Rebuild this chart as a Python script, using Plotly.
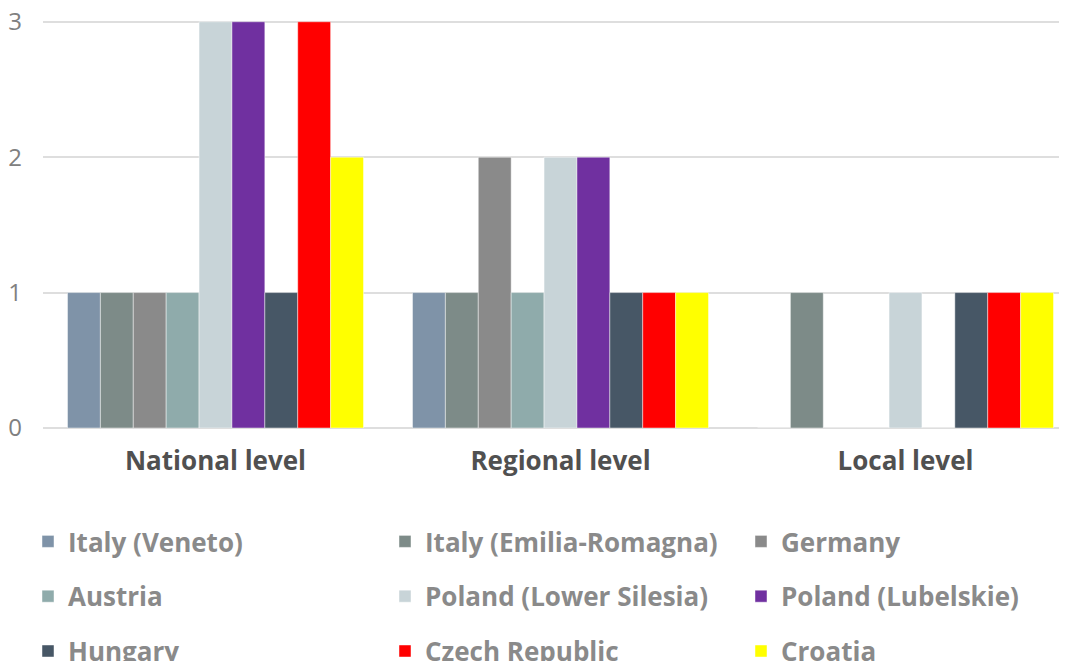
import plotly.graph_objects as go

categories = ["National level", "Regional level", "Local level"]
series_names = [
    "Italy (Veneto)", "Italy (Emilia-Romagna)", "Germany",
    "Austria", "Poland (Lower Silesia)", "Poland (Lubelskie)",
    "Hungary", "Czech Republic", "Croatia",
]
italy_veneto = [1, 1, 0]
italy_emilia_romagna = [1, 1, 1]
germany = [1, 2, 0]
austria = [1, 1, 0]
poland_lower_silesia = [3, 2, 1]
poland_lubelskie = [3, 2, 0]
hungary = [1, 1, 1]
czech_republic = [3, 1, 1]
croatia = [2, 1, 1]
series_values = [
    italy_veneto, italy_emilia_romagna, germany,
    austria, poland_lower_silesia, poland_lubelskie,
    hungary, czech_republic, croatia,
]
colors = [
    "#7f93a8", "#7d8b88", "#8a8a8a",
    "#8fabab", "#c8d4d8", "#7030a0",
    "#475766", "#ff0000", "#ffff00",
]
y_ticks = [0, 1, 2, 3]

# page body has an 8px margin; figure sized to fit inside the window
W, H = 1059, 653
OFF = 8
FONT = "Open Sans"
Y_TOP = 3.05

fig = go.Figure()
for i, (name, vals, col) in enumerate(zip(series_names, series_values, colors)):
    leg = "legend" if i % 3 == 0 else f"legend{i % 3 + 1}"
    fig.add_trace(go.Bar(
        name=name, x=categories, y=vals,
        marker=dict(color=col, line=dict(color="rgba(255,255,255,0.6)", width=0.75)),
        legend=leg, legendgroup=f"g{i}",
    ))

plot_left = 43 - OFF
plot_bottom = 428 - OFF
unit_px = (428 - 21.5) / 3
plot_top = (21.5 - OFF) - (Y_TOP - 3) * unit_px
cat_px = 345
x_end = -0.5 + (W - plot_left) / cat_px

legend_common = dict(
    xref="container", yref="container", xanchor="left", yanchor="top",
    orientation="v", tracegroupgap=18,
    font=dict(family=FONT, size=26, color="#8a8a8a", weight="bold"),
    bgcolor="rgba(0,0,0,0)", borderwidth=0,
)
top_y = 1 - (518 - OFF) / H
fig.update_layout(
    width=W, height=H,
    margin=dict(l=plot_left, r=0, t=plot_top, b=H - plot_bottom, autoexpand=False),
    paper_bgcolor="white", plot_bgcolor="white",
    barmode="group", bargap=49 / 345, bargroupgap=0,
    font=dict(family=FONT),
    showlegend=True,
    legend=dict(**legend_common, x=(28 - OFF) / W, y=top_y),
    legend2=dict(**legend_common, x=(385 - OFF) / W, y=top_y),
    legend3=dict(**legend_common, x=(741 - OFF) / W, y=top_y),
    xaxis=dict(
        range=[-0.5, x_end], showgrid=False, showline=False, ticks="",
        tickfont=dict(family=FONT, size=26, color="#505050", weight="bold"),
        ticklabelstandoff=15, tickangle=0,
    ),
    yaxis=dict(
        range=[0, Y_TOP], tickvals=y_ticks, showgrid=True, gridcolor="#dedede", gridwidth=2,
        zeroline=True, zerolinecolor="#dedede", zerolinewidth=2, showline=False,
        ticks="", tickfont=dict(family=FONT, size=24, color="#808080"),
        ticklabelstandoff=20, ticklabeloverflow="allow",
    ),
)

fig.write_html("out.html")
